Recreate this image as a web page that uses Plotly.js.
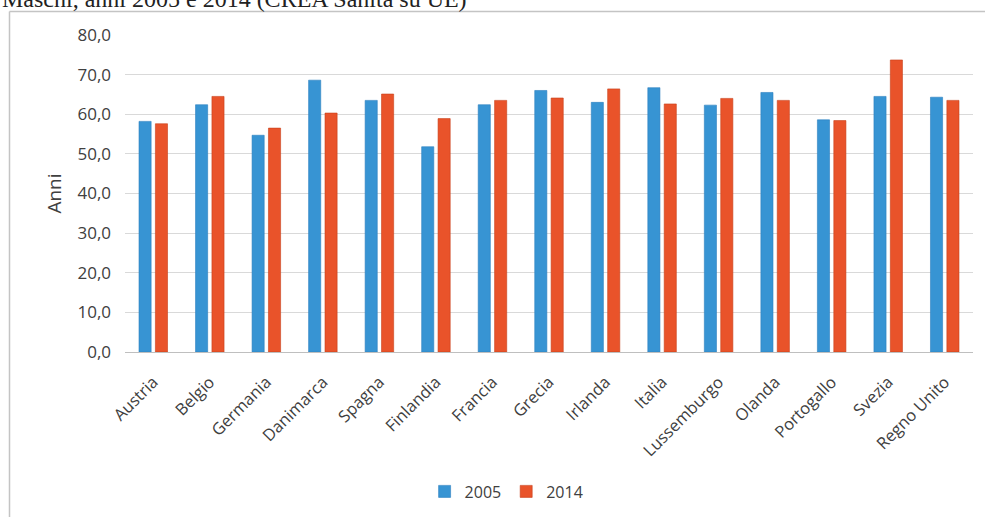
<!DOCTYPE html>
<html>
<head>
<meta charset="utf-8">
<script src="https://cdn.plot.ly/plotly-3.0.1.min.js"></script>
<style>
  html, body { margin: 0; padding: 0; background: #ffffff; }
  #chart { width: 985px; height: 517px; }
</style>
</head>
<body>
<div id="chart"></div>
<script>
const categories = ["Austria", "Belgio", "Germania", "Danimarca", "Spagna", "Finlandia", "Francia", "Grecia", "Irlanda", "Italia", "Lussemburgo", "Olanda", "Portogallo", "Svezia", "Regno Unito"];
const values2005 = [58.2, 62.4, 54.7, 68.6, 63.5, 51.8, 62.4, 66.0, 63.0, 66.7, 62.3, 65.5, 58.6, 64.5, 64.3];
const values2014 = [57.6, 64.5, 56.5, 60.3, 65.1, 58.9, 63.5, 64.1, 66.4, 62.6, 64.0, 63.5, 58.4, 73.7, 63.5];
const yTickVals = [0, 10, 20, 30, 40, 50, 60, 70, 80];
const yTickText = ["0,0", "10,0", "20,0", "30,0", "40,0", "50,0", "60,0", "70,0", "80,0"];
const seriesNames = ["2005", "2014"];
const titleText = "Maschi, anni 2005 e 2014 (CREA Sanità su UE)";

const fontFamily = "'Open Sans', 'Noto Sans', sans-serif";

const traces = [
  {
    type: "bar", name: seriesNames[0], x: categories, y: values2005,
    marker: { color: "#3794d3", line: { color: "#2b80c0", width: 0.6 } }
  },
  {
    type: "bar", name: seriesNames[1], x: categories, y: values2014,
    marker: { color: "#e9532a", line: { color: "#c8401a", width: 0.6 } }
  }
];

const layout = {
  width: 985, height: 517,
  margin: { l: 125, r: 12, t: 35, b: 165, autoexpand: false },
  paper_bgcolor: "#ffffff", plot_bgcolor: "#ffffff",
  barmode: "group", bargap: 0.42, bargroupgap: 0.26,
  font: { family: fontFamily, color: "#404040", size: 16 },
  showlegend: true,
  legend: {
    orientation: "h", x: 0.45, xanchor: "center", y: -0.44, yanchor: "middle",
    font: { size: 16, color: "#404040" }, itemwidth: 30, traceorder: "normal"
  },
  xaxis: {
    type: "category", tickangle: -45, tickfont: { size: 16.5, color: "#404040" },
    showgrid: false, showline: true, linecolor: "#bfbfbf", linewidth: 1,
    ticks: "", ticklabelstandoff: 13, automargin: false
  },
  yaxis: {
    range: [0, 80], tickvals: yTickVals, ticktext: yTickText,
    tickfont: { size: 17, color: "#404040" },
    showgrid: true, gridcolor: "#d9d9d9", gridwidth: 1,
    zeroline: false, showline: false, ticks: "", ticklabelstandoff: 13,
    title: { text: "Anni", font: { size: 19, color: "#404040" }, standoff: 10 },
    automargin: false
  },
  annotations: [
    {
      text: titleText, xref: "paper", yref: "paper",
      x: -0.1474, xanchor: "left", y: 1.115, yanchor: "middle",
      showarrow: false,
      font: { family: "'Liberation Serif', 'DejaVu Serif', serif", size: 24, color: "#222222" }
    }
  ],
  shapes: [
    { type: "line", xref: "paper", yref: "paper", x0: -0.1362, x1: -0.1362, y0: 1.0741, y1: -0.53,
      line: { color: "#c4c4c4", width: 1.5 } },
    { type: "line", xref: "paper", yref: "paper", x0: -0.1362, x1: 1.02, y0: 1.0741, y1: 1.0741,
      line: { color: "#c4c4c4", width: 1.5 } }
  ]
};

Plotly.newPlot("chart", traces, layout, { displayModeBar: false, staticPlot: true });
</script>
</body>
</html>
